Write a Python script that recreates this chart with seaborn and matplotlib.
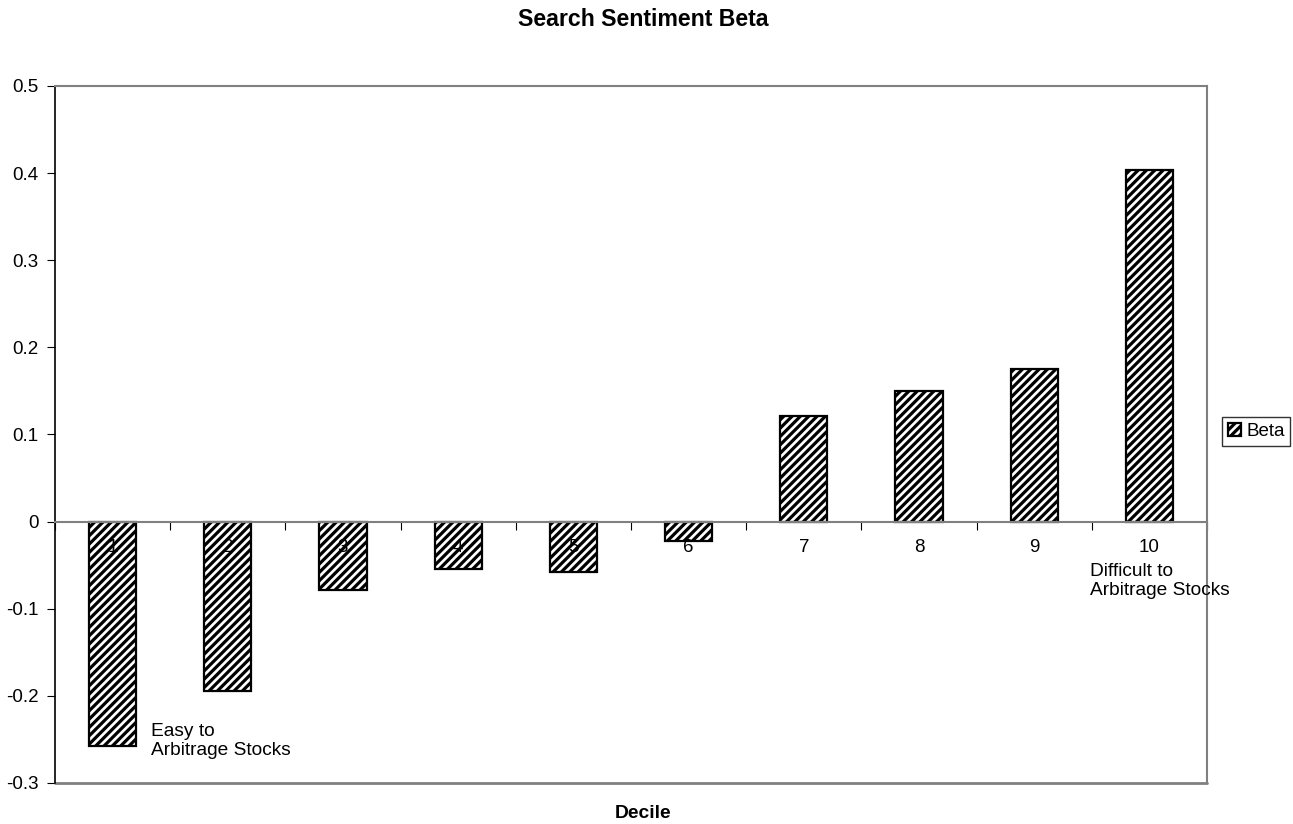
import matplotlib
matplotlib.use('Agg')
import matplotlib.pyplot as plt
import seaborn as sns
import numpy as np
import pandas as pd

deciles = ["1", "2", "3", "4", "5", "6", "7", "8", "9", "10"]
beta = [-0.258, -0.195, -0.079, -0.054, -0.058, -0.022, 0.121, 0.150, 0.175, 0.403]
y_ticks = [-0.3, -0.2, -0.1, 0, 0.1, 0.2, 0.3, 0.4, 0.5]
y_tick_labels = ["-0.3", "-0.2", "-0.1", "0", "0.1", "0.2", "0.3", "0.4", "0.5"]

sns.set_style("white")
plt.rcParams['font.family'] = ['Liberation Sans', 'DejaVu Sans']
plt.rcParams['hatch.linewidth'] = 2.3
plt.rcParams['hatch.color'] = 'black'
plt.rcParams['text.color'] = 'black'
plt.rcParams['xtick.color'] = 'black'
plt.rcParams['ytick.color'] = 'black'
plt.rcParams['axes.labelcolor'] = 'black'

df = pd.DataFrame({"Decile": deciles, "Beta": beta})

fig = plt.figure(figsize=(12.93, 8.24), dpi=100)
ax = fig.add_axes([0.0425, 0.0498, 0.8910, 0.8459])

sns.barplot(data=df, x="Decile", y="Beta", ax=ax, color="white", width=0.41,
            edgecolor="black", linewidth=1.6, hatch="////", label="Beta")

ax.set_ylim(-0.3, 0.5)
ax.set_xlim(-0.5, len(deciles) - 0.5)
ax.set_yticks(y_ticks)
ax.set_yticklabels(y_tick_labels, fontsize=13.5)
ax.tick_params(axis='y', direction='out', length=6, color='black', left=True, pad=6)

# zero line carries the category boundary ticks
ax.spines['bottom'].set_position(('data', 0))
ax.spines['bottom'].set_color('#808080')
ax.spines['bottom'].set_linewidth(1.5)
ax.set_xticks(np.arange(len(deciles) + 1) - 0.5)
ax.set_xticklabels([])
ax.tick_params(axis='x', direction='out', length=6, color='black', bottom=True)
ax.axhline(-0.3, color='#808080', lw=2, clip_on=False)
for side in ['top', 'right']:
    ax.spines[side].set_color('#808080')
    ax.spines[side].set_linewidth(1.5)
ax.spines['left'].set_color('black')
ax.spines['left'].set_linewidth(1.2)

for i, lab in enumerate(deciles):
    ax.text(i, -0.030, lab, ha='center', va='center', fontsize=13.5)

ax.text(0.33, -0.2514, "Easy to\nArbitrage Stocks", ha='left', va='center', fontsize=13.8, linespacing=1.15)
ax.text(8.48, -0.0677, "Difficult to\nArbitrage Stocks", ha='left', va='center', fontsize=13.8, linespacing=1.15)

ax.set_xlabel("")
ax.set_ylabel("")
fig.text(0.4977, 0.0133, "Decile", ha='center', va='center', fontsize=13.9, fontweight='bold')
fig.text(0.4977, 0.976, "Search Sentiment Beta", ha='center', va='center', fontsize=16.7, fontweight='bold')

handles, labels = ax.get_legend_handles_labels()
if ax.get_legend() is not None:
    ax.get_legend().remove()
fig.legend(handles[:1], labels[:1], loc='center left', bbox_to_anchor=(0.945, 0.4763),
           frameon=True, fancybox=False, edgecolor='black', fontsize=13.5,
           handlelength=0.7, handleheight=0.7, handletextpad=0.3, borderpad=0.3,
           borderaxespad=0)

plt.savefig("out.png", dpi=100)
plt.close()
